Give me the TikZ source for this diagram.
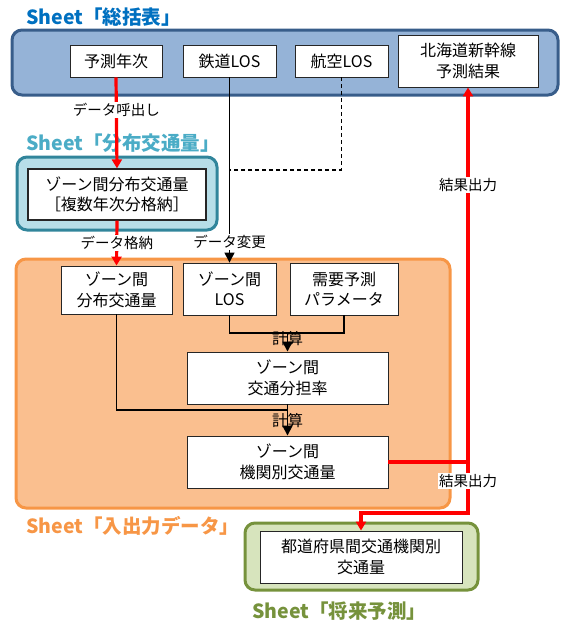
\documentclass[tikz,border=0pt]{standalone}
\usepackage{fontspec}
\setmainfont{Noto Sans CJK JP}
\usetikzlibrary{arrows.meta}
\definecolor{tblue}{RGB}{0,112,192}
\definecolor{cblue}{RGB}{149,179,215}
\definecolor{bblue}{RGB}{56,93,138}
\definecolor{tteal}{RGB}{75,172,198}
\definecolor{cteal}{RGB}{183,222,232}
\definecolor{bteal}{RGB}{49,133,155}
\definecolor{torange}{RGB}{247,150,70}
\definecolor{corange}{RGB}{250,191,143}
\definecolor{tgreen}{RGB}{118,146,60}
\definecolor{cgreen}{RGB}{215,228,189}
\definecolor{linered}{RGB}{255,0,0}
\tikzset{
  container/.style={rounded corners=10pt, line width=3pt, inner sep=0pt},
  box/.style={draw=black!85, fill=white, line width=0.9pt, align=center, inner sep=0pt,
    font=\fontsize{16}{20.5}\selectfont},
  lbl/.style={fill=white, inner sep=1.5pt, font=\fontsize{14.5}{16}\selectfont},
  calc/.style={inner sep=0pt, font=\fontsize{15.5}{16}\selectfont},
  ttl/.style={anchor=west, inner sep=0pt, font=\bfseries\fontsize{19.5}{21}\selectfont},
  redl/.style={draw=linered, line width=3.2pt},
  blk/.style={draw=black, line width=1.7pt},
  rarrow/.style={-{Triangle[width=10pt,length=9pt]}},
  barrow/.style={-{Triangle[width=10pt,length=10pt]}}
}
\begin{document}
\begin{tikzpicture}[x=1pt,y=-1pt]
\useasboundingbox (0,0) rectangle (562,624);
% containers
\node[container, draw=bblue, fill=cblue, minimum width=546pt, minimum height=65pt] (cblu) at (285,62.5) {};
\node[container, draw=bteal, fill=cteal, minimum width=200pt, minimum height=73pt] (cteal) at (117,193.5) {};
\node[container, draw=torange, fill=corange, minimum width=434pt, minimum height=249pt] (corg) at (233,383.5) {};
\node[container, draw=tgreen, fill=cgreen, minimum width=233pt, minimum height=67pt] (cgrn) at (361.5,556.5) {};
% titles
\node[ttl, text=tblue] (t1) at (26,17) {Sheet「総括表」};
\node[ttl, text=tteal] (t2) at (26,143) {Sheet「分布交通量」};
\node[ttl, text=torange] (t3) at (26,526) {Sheet「入出力データ」};
\node[ttl, text=tgreen] (t4) at (252,611) {Sheet「将来予測」};
% boxes
\node[box, minimum width=92pt, minimum height=32pt] (yosoku) at (116,61) {予測年次};
\node[box, minimum width=93pt, minimum height=32pt] (tetsudo) at (229.5,61) {鉄道LOS};
\node[box, minimum width=93pt, minimum height=32pt] (koku) at (341.5,61) {航空LOS};
\node[box, minimum width=140pt, minimum height=52pt] (hokkaido) at (468,61) {北海道新幹線\\予測結果};
\node[box, line width=1.3pt, minimum width=178pt, minimum height=51pt] (bunpu) at (117,194.5) {ゾーン間分布交通量\\［複数年次分格納］};
\node[box, minimum width=111pt, minimum height=48pt] (zbunpu) at (116.5,290) {ゾーン間\\分布交通量};
\node[box, minimum width=93pt, minimum height=52pt] (zlos) at (229.5,289) {ゾーン間\\LOS};
\node[box, minimum width=108pt, minimum height=52pt] (param) at (344,289) {需要予測\\パラメータ};
\node[box, minimum width=201pt, minimum height=52pt] (bunritsu) at (287.5,378) {ゾーン間\\交通分担率};
\node[box, minimum width=201pt, minimum height=52pt] (kikan) at (287.5,462) {ゾーン間\\機関別交通量};
\node[box, minimum width=202pt, minimum height=52pt] (shorai) at (361,557) {都道府県間交通機関別\\交通量};
% coordinates
\coordinate (dj) at (229.5,170);
\coordinate (c1) at (287.5,333);
\coordinate (c2) at (287.5,410);
\coordinate (rj) at (468,462);
\coordinate (rb) at (468,513);
\coordinate (rl) at (361,513);
% connectors
\draw[redl, rarrow] (yosoku.south) -- node[lbl, pos=0.36] {データ呼出し} (bunpu.north);
\draw[redl, rarrow] (bunpu.south) -- node[lbl, pos=0.5] {データ格納} (zbunpu.north);
\draw[blk, line width=1.3pt, barrow] (tetsudo.south) -- node[lbl, pos=0.89] {データ変更} (zlos.north);
\draw[black, line width=1.3pt, dash pattern=on 4pt off 3pt] (koku.south) |- (dj);
\draw[blk] (zlos.south) |- (c1) -| (param.south);
\draw[blk, barrow] (c1) -- (bunritsu.north);
\node[calc] (k1) at (287.5,339) {計算};
\draw[blk] (zbunpu.south) |- (c2);
\draw[blk, barrow] (bunritsu.south) -- (kikan.north);
\node[calc] (k2) at (287.5,421) {計算};
\draw[redl, rarrow] (kikan.east) -- (rj) -- node[lbl, pos=0.74] {結果出力} (hokkaido.south);
\draw[redl, rarrow] (rj) -- (rb) -- (rl) -- (shorai.north);
\node[lbl] (l5) at (468,481) {結果出力};
\end{tikzpicture}
\end{document}
